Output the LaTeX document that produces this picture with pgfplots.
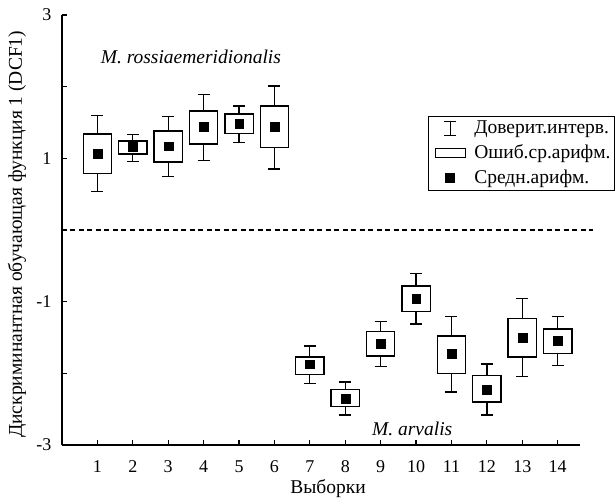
\documentclass[border=0pt]{standalone}
\usepackage{fontspec}
\setmainfont{Liberation Serif}
\usepackage{pgfplots}
\pgfplotsset{compat=1.18}
\usepgfplotslibrary{statistics}
\begin{document}
\fontsize{19.5}{23}\selectfont
\begin{tikzpicture}
\path[use as bounding box] (-62pt,-54pt) rectangle (553pt,445pt);
\begin{axis}[
  scale only axis, width=518pt, height=430pt,
  xmin=0, xmax=14.63, ymin=-3, ymax=3,
  axis x line*=bottom, axis y line*=left,
  axis line style={line width=1.2pt},
  every tick/.style={line width=1.2pt, black},
  major tick length=5pt,
  tick align=inside,
  xtick={1,...,14},
  ytick={-3,-2,-1,0,1,2,3},
  yticklabels={-3,,-1,,1,,3},
  /pgf/number format/assume math mode=true,
  tick label style={font=\fontsize{18}{21}\selectfont},
  xticklabel style={yshift=-9pt},
  yticklabel style={xshift=-4pt},
  clip=false,
  xlabel={Выборки},
  xlabel style={at={(axis description cs:0.5135,-0.1128)}, anchor=base, inner sep=0pt},
  ylabel={Дискриминантная обучающая функция 1 (DCF1)},
  ylabel style={at={(axis description cs:-0.087,0.49)}, anchor=center},
  boxplot/draw direction=y,
  boxplot/box extend=0.8,
  boxplot/whisker extend=0.34,
  boxplot/draw/median/.code={},
  legend style={at={(axis description cs:1.0676,0.7651)}, anchor=north east,
    draw=black, line width=0.9pt, row sep=4.5pt, inner sep=2pt},
  legend cell align=left,
]
% zero line
\addplot[black, line width=1.1pt, dash pattern=on 5pt off 3.5pt, forget plot] coordinates {(0,0) (15,0)};
% boxes: lower whisker, lower quartile, mean, upper quartile, upper whisker
\pgfplotsset{mybox/.style={black, line width=1.3pt, solid, forget plot}}
\addplot[mybox, boxplot prepared={draw position=1, lower whisker=0.54, lower quartile=0.79, median=1.07, upper quartile=1.34, upper whisker=1.60}] coordinates {};
\addplot[mybox, boxplot prepared={draw position=2, lower whisker=0.96, lower quartile=1.06, median=1.16, upper quartile=1.24, upper whisker=1.33}] coordinates {};
\addplot[mybox, boxplot prepared={draw position=3, lower whisker=0.75, lower quartile=0.95, median=1.17, upper quartile=1.38, upper whisker=1.58}] coordinates {};
\addplot[mybox, boxplot prepared={draw position=4, lower whisker=0.97, lower quartile=1.20, median=1.44, upper quartile=1.66, upper whisker=1.89}] coordinates {};
\addplot[mybox, boxplot prepared={draw position=5, lower whisker=1.22, lower quartile=1.35, median=1.49, upper quartile=1.62, upper whisker=1.73}] coordinates {};
\addplot[mybox, boxplot prepared={draw position=6, lower whisker=0.85, lower quartile=1.15, median=1.44, upper quartile=1.73, upper whisker=2.01}] coordinates {};
\addplot[mybox, boxplot prepared={draw position=7, lower whisker=-2.14, lower quartile=-2.02, median=-1.87, upper quartile=-1.77, upper whisker=-1.62}] coordinates {};
\addplot[mybox, boxplot prepared={draw position=8, lower whisker=-2.58, lower quartile=-2.46, median=-2.35, upper quartile=-2.23, upper whisker=-2.12}] coordinates {};
\addplot[mybox, boxplot prepared={draw position=9, lower whisker=-1.90, lower quartile=-1.76, median=-1.59, upper quartile=-1.42, upper whisker=-1.28}] coordinates {};
\addplot[mybox, boxplot prepared={draw position=10, lower whisker=-1.31, lower quartile=-1.14, median=-0.96, upper quartile=-0.78, upper whisker=-0.61}] coordinates {};
\addplot[mybox, boxplot prepared={draw position=11, lower whisker=-2.26, lower quartile=-2.00, median=-1.73, upper quartile=-1.48, upper whisker=-1.21}] coordinates {};
\addplot[mybox, boxplot prepared={draw position=12, lower whisker=-2.58, lower quartile=-2.40, median=-2.23, upper quartile=-2.03, upper whisker=-1.87}] coordinates {};
\addplot[mybox, boxplot prepared={draw position=13, lower whisker=-2.04, lower quartile=-1.77, median=-1.50, upper quartile=-1.23, upper whisker=-0.96}] coordinates {};
\addplot[mybox, boxplot prepared={draw position=14, lower whisker=-1.89, lower quartile=-1.72, median=-1.54, upper quartile=-1.38, upper whisker=-1.21}] coordinates {};
% means
\addplot[only marks, mark=square*, mark size=4.4pt, mark options={fill=black, draw=black, line width=0.2pt}, forget plot] coordinates {
(1,1.07) (2,1.16) (3,1.17) (4,1.44) (5,1.49) (6,1.44) (7,-1.87)
(8,-2.35) (9,-1.59) (10,-0.96) (11,-1.73) (12,-2.23) (13,-1.50) (14,-1.54)};
% legend
\addlegendimage{legend image code/.code={
  \path[draw=none,fill=none] (0pt,-6pt) rectangle (42pt,6pt);
  \draw[line width=1.1pt] (20pt,-7pt)--(20pt,7pt) (14pt,-7pt)--(26pt,-7pt) (14pt,7pt)--(26pt,7pt);}}
\addlegendentry{Доверит.интерв.}
\addlegendimage{legend image code/.code={
  \path[draw=none,fill=none] (0pt,-6pt) rectangle (42pt,6pt);
  \draw[line width=1.1pt] (5pt,-4.5pt) rectangle (35pt,4.5pt);}}
\addlegendentry{Ошиб.ср.арифм.}
\addlegendimage{legend image code/.code={
  \path[draw=none,fill=none] (0pt,-6pt) rectangle (42pt,6pt);
  \fill[black] (15.5pt,-4.5pt) rectangle (24.5pt,4.5pt);}}
\addlegendentry{Средн.арифм.}
\node[font=\itshape] at (axis cs:3.64,2.41) {M. rossiaemeridionalis};
\node[font=\itshape] at (axis cs:9.89,-2.78) {M. arvalis};
\end{axis}
\end{tikzpicture}
\end{document}
